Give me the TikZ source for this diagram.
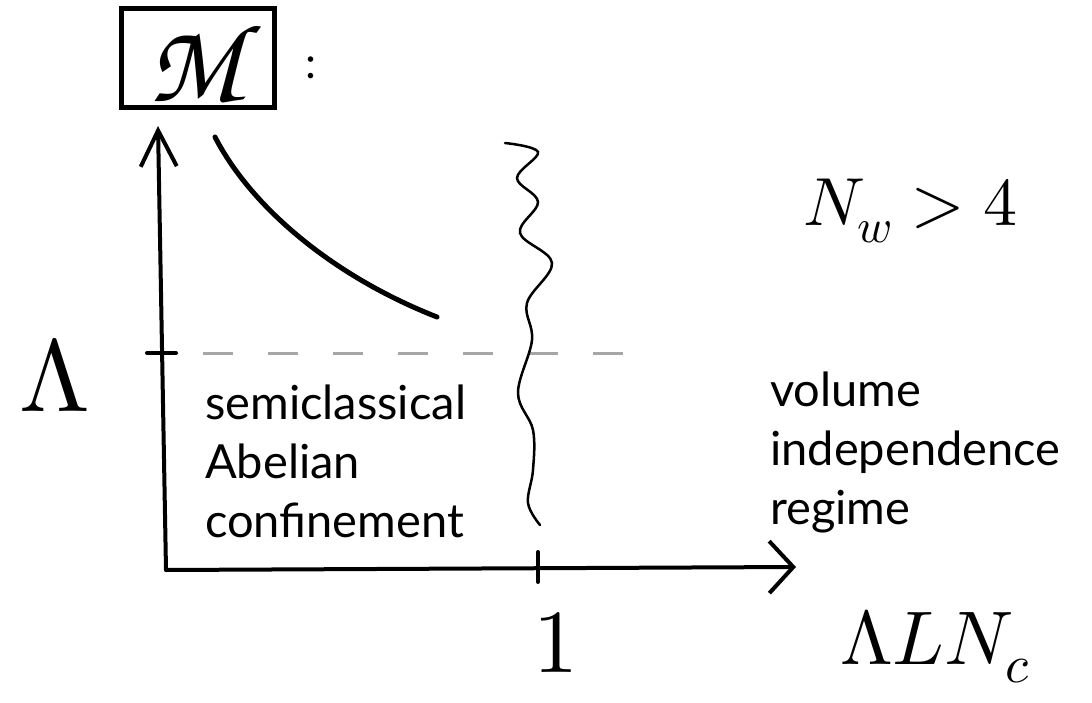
\documentclass[tikz,border=0pt]{standalone}
\usepackage{fontspec}
\usepackage{unicode-math}
\setmathfont{Latin Modern Math}
\newfontfamily\regimefont{Lato}
\usetikzlibrary{arrows.meta}

\begin{document}
\begin{tikzpicture}[x=1pt,y=-1pt,
  axis/.style={line width=4pt,line cap=round},
  regime/.style={align=left,anchor=north west,inner sep=0pt,font=\regimefont\fontsize{47}{59}\selectfont},
  hand/.style={inner sep=0pt,anchor=base west}]
\useasboundingbox[fill=white](0,0)rectangle(1092,703);
% frame with the symbol
\node[draw,line width=5pt,minimum width=153pt,minimum height=99pt,inner sep=0pt](mbox)at(198,58){};
\node[inner sep=0pt](msym)at(196,62){\usefont{OT1}{pzc}{mb}{it}\fontsize{112}{112}\selectfont M};
\node[font=\regimefont\fontsize{44}{44}\selectfont](colon)at(311,68){:};
% axes
\coordinate(o)at(166,570);\coordinate(ytip)at(158,126);\coordinate(xtip)at(796,567);
\coordinate(lam)at(162,353);\coordinate(one)at(538,566);
\draw[axis,-{Straight Barb[length=36pt,width=36pt,line width=4pt]}](o)--(ytip);
\draw[axis,-{Straight Barb[length=24pt,width=52pt,line width=4pt]}](o)--(xtip);
\draw[axis]([xshift=-15pt]lam)--([xshift=14pt]lam);\draw[axis]([yshift=-16pt]one)--([yshift=14pt]one);
\draw[gray!70,line width=3pt,dash pattern=on 30pt off 35pt]([xshift=41pt]lam)--(645,353);
% curve and wall
\draw[line width=5pt,line cap=round](215,137)..controls(250,205)and(330,275)..(437,317);
\draw[line width=2.5pt,line cap=round]plot[smooth,tension=.6]coordinates{(505,143)(538,152)(517,178)(538,202)(520,233)(552,263)(527,303)(532,340)(518,393)(533,430)(533,470)(528,503)(540,525)};
% labels
\node[hand,anchor=base,font=\fontsize{102}{102}\selectfont](lamlabel)at(55,411){$\Lambda$};
\node[hand,anchor=base,font=\fontsize{90}{90}\selectfont](onelabel)at(556,672){$1$};
\node[hand,font=\fontsize{76}{76}\selectfont](xlabel)at(840,664){$\Lambda L N_c$};
\node[hand,font=\fontsize{68}{68}\selectfont](nw)at(803,226){$N_w > 4$};
\node[regime](abel)at(205,385){semiclassical\\Abelian\\confinement};
\node[regime](vol)at(770,372){volume\\independence\\regime};
\end{tikzpicture}
\end{document}
